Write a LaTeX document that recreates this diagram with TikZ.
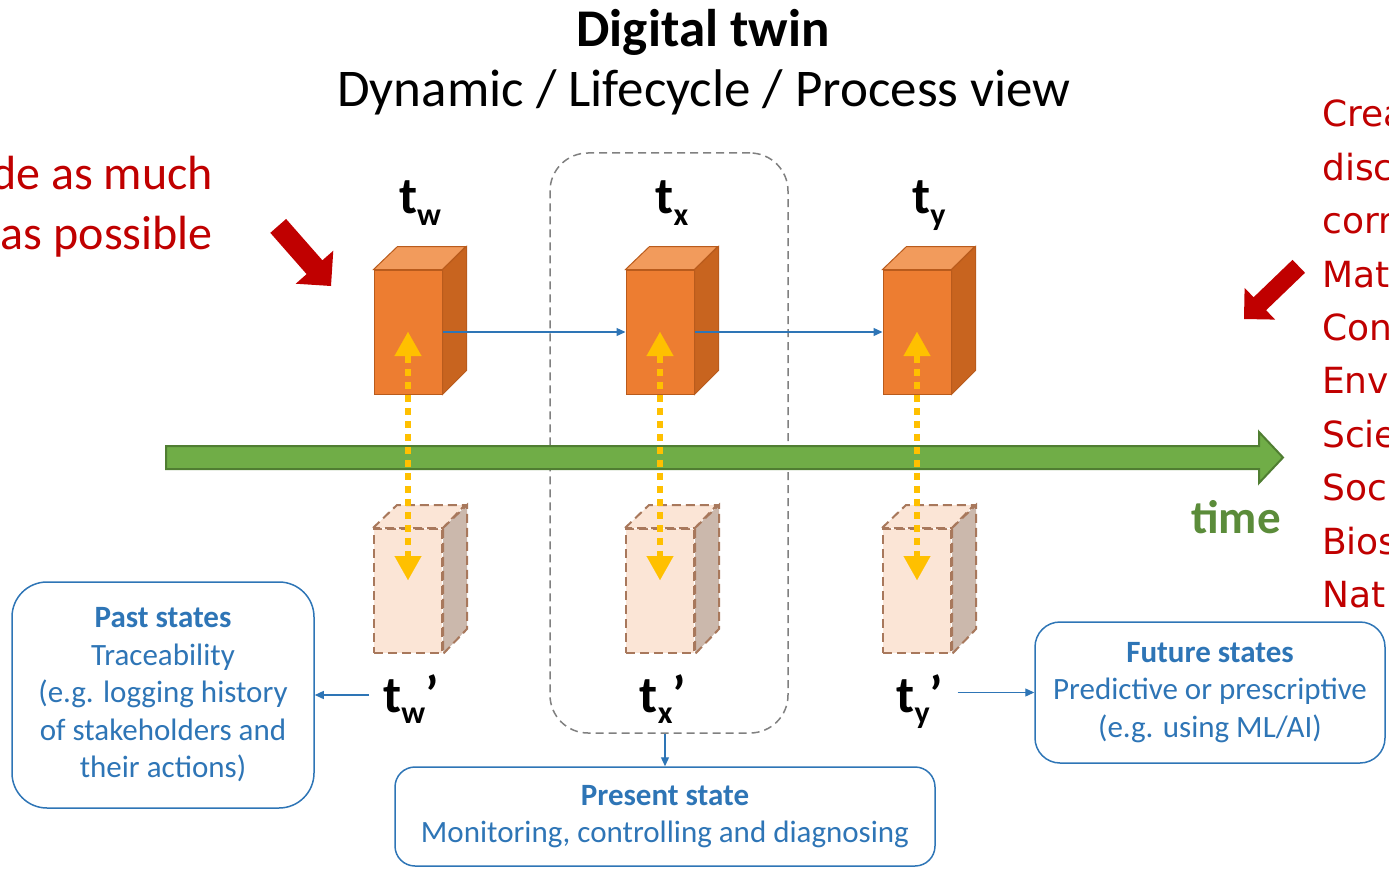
\documentclass[tikz,border=0pt]{standalone}
\usepackage{fontspec}
\setmainfont{Carlito}
\newfontfamily\dejavu{DejaVu Sans}
\usetikzlibrary{arrows.meta}

\definecolor{cubefront}{HTML}{ED7D31}
\definecolor{cubetop}{HTML}{F29B5C}
\definecolor{cubeside}{HTML}{C8641F}
\definecolor{cubeedge}{HTML}{B95B1C}
\definecolor{ghostfront}{HTML}{FBE5D6}
\definecolor{ghostside}{HTML}{CBB8AC}
\definecolor{ghostedge}{HTML}{A8785C}
\definecolor{syncyellow}{HTML}{FFC000}
\definecolor{timegreen}{HTML}{70AD47}
\definecolor{timedark}{HTML}{507E32}
\definecolor{timetext}{HTML}{5B8C3A}
\definecolor{flowblue}{HTML}{2E75B6}
\definecolor{alert}{HTML}{C00000}

% t with a subscript, as on the state labels
\newcommand\tsub[1]{t\raisebox{-.22em}{\fontsize{32}{32}\selectfont #1}}

\begin{document}
\begin{tikzpicture}[x=1pt, y=-1pt,
    cube/.style={rectangle, inner sep=0pt, fill=cubefront, draw=cubeedge, line width=1pt,
        minimum width=\cw pt, minimum height=\ch pt},
    cubeface/.style={draw=cubeedge, line width=1pt},
    ghost/.style={rectangle, inner sep=0pt, fill=ghostfront, draw=ghostedge, line width=2pt,
        dash pattern=on 9pt off 5pt, minimum width=\cw pt, minimum height=\ch pt},
    ghostface/.style={draw=ghostedge, line width=2pt, dash pattern=on 9pt off 5pt},
    tlabel/.style={font=\fontsize{52}{56}\selectfont\bfseries, inner xsep=14pt, inner ysep=2pt},
    flow/.style={draw=flowblue, line width=1.3pt, -{Triangle[width=8pt,length=9pt]}},
    sync/.style={draw=syncyellow, line width=6pt, dash pattern=on 7pt off 6pt,
        {Triangle[width=27pt,length=24pt,line width=0.1pt]}-{Triangle[width=27pt,length=24pt,line width=0.1pt]}},
    state/.style={draw=flowblue, line width=1.5pt, rounded corners=25pt, text=flowblue,
        align=center, font=\fontsize{31}{37.5}\selectfont},
    window/.style={draw=gray, line width=1.5pt, dash pattern=on 8pt off 5pt, rounded corners=38pt}]

    \def\cw{68}
    \def\ch{124}
    \def\dx{24}
    \def\dy{23}

    \useasboundingbox (0,0) rectangle (1389,869);
    \clip (0,0) rectangle (1389,869);

    % Title
    \node[font=\fontsize{53}{60}\selectfont\bfseries, anchor=base] (title) at (703,47) {Digital twin};
    \node[font=\fontsize{53}{60}\selectfont, anchor=base] (subtitle) at (704,107) {Dynamic / Lifecycle / Process view};

    % Present-time window
    \node[window, minimum width=238pt, minimum height=580pt] (win) at (669,443) {};

    % Physical states (solid) and their twins (dashed)
    \foreach \n/\cx in {w/408, x/660, y/917}{
        \node[cube] (b\n) at (\cx,332) {};
        \filldraw[cubeface, fill=cubetop] (b\n.north west) -- ++(\dx,-\dy) -- ++(\cw,0) -- (b\n.north east) -- cycle;
        \filldraw[cubeface, fill=cubeside] (b\n.north east) -- ++(\dx,-\dy) -- ++(0,\ch) -- (b\n.south east) -- cycle;
        \node[ghost] (g\n) at (\cx,591) {};
        \filldraw[ghostface, fill=ghostfront] (g\n.north west) -- ++(\dx,-\dy) -- ++(\cw,0) -- (g\n.north east) -- cycle;
        \filldraw[ghostface, fill=ghostside] (g\n.north east) -- ++(\dx,-\dy) -- ++(0,\ch) -- (g\n.south east) -- cycle;
        \node[tlabel, anchor=base] (t\n) at (\cx+12,214) {\tsub{\n}};
        \node[tlabel, anchor=base] (p\n) at (\cx+3,712) {\tsub{\n}'};
    }

    % Time axis
    \filldraw[fill=timegreen, draw=timedark, line width=2pt]
        (166,446) -- (1259,446) -- (1259,432) -- (1283,457.5) -- (1259,483) -- (1259,469) -- (166,469) -- cycle;
    \node[font=\fontsize{47}{50}\selectfont\bfseries, text=timetext, anchor=base] (timelbl) at (1236,533) {time};

    % Twin synchronisation
    \foreach \n in {w, x, y}
        \draw[sync, shorten >=11pt] (b\n.center) -- (g\n.center);

    % Evolution of the physical states
    \draw[flow] (bw.east) -- (bx.west);
    \draw[flow] (bx.east) -- (by.west);

    % States of the twin
    \node[state, minimum width=302pt, minimum height=226pt, rounded corners=35pt] (past) at (163,695)
        {\textbf{Past states}\\Traceability\\(e.g. logging history\\of stakeholders and\\their actions)};
    \node[state, minimum width=350pt, minimum height=141pt] (future) at (1210,692.5)
        {\textbf{Future states}\\Predictive or prescriptive\\(e.g. using ML/AI)};
    \node[state, minimum width=540pt, minimum height=99pt, rounded corners=20pt] (present) at (665,816.5)
        {\textbf{Present state}\\Monitoring, controlling and diagnosing};

    \draw[flow] (pw.west |- past.east) -- (past.east);
    \draw[flow] (py.east |- future.west) -- (future.west);
    \draw[flow] (win.south -| present.north) -- (present.north);

    % Side notes
    \node[font=\fontsize{48}{60}\selectfont, text=alert, align=right, anchor=north east, inner sep=0pt] (goal) at (213,156)
        {de as much\\as possible};
    \node[font=\dejavu\fontsize{36}{53.4}\selectfont, text=alert, align=left, anchor=north west, inner sep=0pt] (fields) at (1322,100)
        {Crea\\disc\\corr\\Mat\\Con\\Env\\Scie\\Soc\\Bios\\Nat};

    \begin{scope}[shift={(331,286)}, rotate=-48.7]
        \fill[alert] (0,0) -- (-25,-25) -- (-25,-10.5) -- (-80,-10.5) -- (-80,10.5) -- (-25,10.5) -- (-25,25) -- cycle;
    \end{scope}
    \begin{scope}[shift={(1244,319)}, rotate=-136.1]
        \fill[alert] (0,0) -- (-22,-22) -- (-22,-9) -- (-76,-9) -- (-76,9) -- (-22,9) -- (-22,22) -- cycle;
    \end{scope}

\end{tikzpicture}
\end{document}
